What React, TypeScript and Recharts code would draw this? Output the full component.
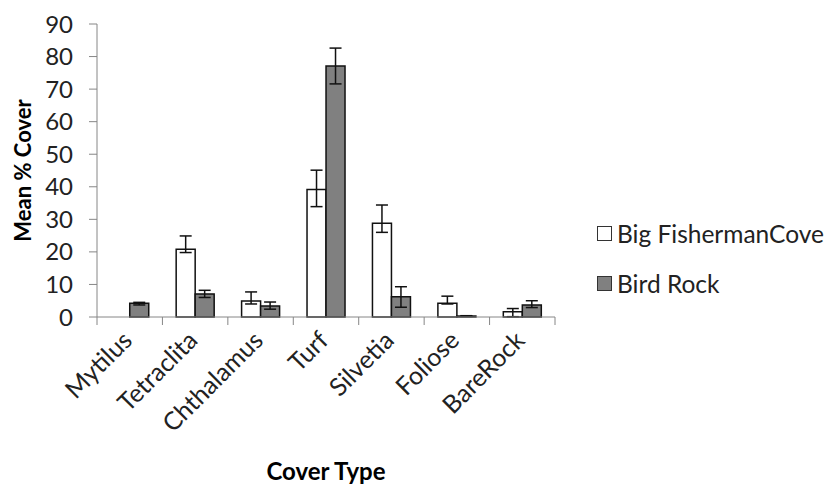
import { BarChart, Bar, XAxis, YAxis, ErrorBar, Legend } from "recharts";

const categories = ["Mytilus", "Tetraclita", "Chthalamus", "Turf", "Silvetia", "Foliose", "BareRock"];
const bigFishermanCove = [0, 20.8, 4.9, 39.2, 28.8, 4.2, 1.6];
const bigFishermanCoveErr: ([number, number] | null)[] = [null, [1.0, 4.1], [0.9, 2.8], [5.3, 5.9], [2.8, 5.6], [0.2, 2.2], [1.5, 1.0]];
const birdRock = [4.2, 7.1, 3.4, 77.1, 6.2, 0.3, 3.7];
const birdRockErr: [number, number][] = [[0.5, 0.3], [1.1, 1.1], [1.0, 1.2], [5.5, 5.5], [3.2, 3.1], [0.1, 0.1], [0.8, 1.3]];
const yTicks = [0, 10, 20, 30, 40, 50, 60, 70, 80, 90];

const data = categories.map((c, i) => ({
  name: c,
  bfc: bigFishermanCove[i],
  bfcErr: bigFishermanCoveErr[i],
  br: birdRock[i],
  brErr: birdRockErr[i],
}));

const FONT = "Lato, 'Open Sans', sans-serif";
const AXIS_GRAY = "#868686";

// category labels rotated, tick marks drawn on the band edges
function CatTick(props: any) {
  const { x, y, payload, index, visibleTicksCount } = props;
  const half = payload.offset ?? 0;
  const last = index === visibleTicksCount - 1;
  return (
    <g>
      <line x1={x - half} x2={x - half} y1={y - 8} y2={y} stroke={AXIS_GRAY} />
      {last && <line x1={x + half} x2={x + half} y1={y - 8} y2={y} stroke={AXIS_GRAY} />}
      <text
        x={x + 4}
        y={y + 17}
        textAnchor="end"
        transform={`rotate(-45 ${x + 4} ${y + 17})`}
        fontSize={25}
        fill="#222"
        fontFamily={FONT}
      >
        {payload.value}
      </text>
    </g>
  );
}

function LegendBox(props: any) {
  const items = props.payload || [];
  return (
    <div style={{ fontFamily: FONT, fontSize: 24.5, color: "#222", whiteSpace: "nowrap" }}>
      {items.map((it: any) => (
        <div key={it.value} style={{ display: "flex", alignItems: "center", height: 50 }}>
          <span
            style={{
              display: "inline-block",
              flex: "none",
              width: 13,
              height: 13,
              border: "1.5px solid #333",
              background: it.color,
              marginRight: 5,
            }}
          />
          <span>{it.value}</span>
        </div>
      ))}
    </div>
  );
}

export default function App() {
  return (
    <div style={{ position: "absolute", left: 0, top: 0, background: "#fff" }}>
      <BarChart
        width={827}
        height={489}
        data={data}
        margin={{ top: 24, right: 272, bottom: 0, left: 0 }}
        barCategoryGap="21%"
        barGap={0}
        style={{ fontFamily: FONT }}
      >
        <XAxis
          dataKey="name"
          height={172}
          axisLine={{ stroke: AXIS_GRAY }}
          tickLine={false}
          tickSize={8}
          tickMargin={0}
          interval={0}
          tick={<CatTick />}
          label={{
            content: (p: any) => (
              <text
                x={p.viewBox.x + p.viewBox.width / 2}
                y={p.viewBox.y + 163}
                textAnchor="middle"
                fontSize={24}
                fontWeight="bold"
                fill="#000"
                fontFamily={FONT}
              >
                Cover Type
              </text>
            ),
          }}
        />
        <YAxis
          width={97}
          domain={[0, 90]}
          ticks={yTicks}
          interval={0}
          axisLine={{ stroke: AXIS_GRAY }}
          tickLine={{ stroke: AXIS_GRAY }}
          tickSize={8}
          tickMargin={16}
          tick={{ fontSize: 24, fill: "#222", fontFamily: FONT }}
          label={{
            content: (p: any) => {
              const cx = p.viewBox.x + 22;
              const cy = p.viewBox.y + p.viewBox.height / 2;
              return (
                <text
                  x={cx}
                  y={cy}
                  textAnchor="middle"
                  dominantBaseline="central"
                  transform={`rotate(-90 ${cx} ${cy})`}
                  fontSize={22}
                  fontWeight="bold"
                  fill="#000"
                  fontFamily={FONT}
                >
                  Mean % Cover
                </text>
              );
            },
          }}
        />
        <Legend
          layout="horizontal"
          align="center"
          verticalAlign="middle"
          wrapperStyle={{ left: 597, top: 208, width: 228 }}
          content={<LegendBox />}
        />
        <Bar dataKey="bfc" name="Big FishermanCove" fill="#ffffff" stroke="#111" strokeWidth={1.5} isAnimationActive={false}>
          <ErrorBar dataKey="bfcErr" width={6} stroke="#111" strokeWidth={1.5} direction="y" />
        </Bar>
        <Bar dataKey="br" name="Bird Rock" fill="#808080" stroke="#111" strokeWidth={1.5} isAnimationActive={false}>
          <ErrorBar dataKey="brErr" width={6} stroke="#111" strokeWidth={1.5} direction="y" />
        </Bar>
      </BarChart>
    </div>
  );
}
